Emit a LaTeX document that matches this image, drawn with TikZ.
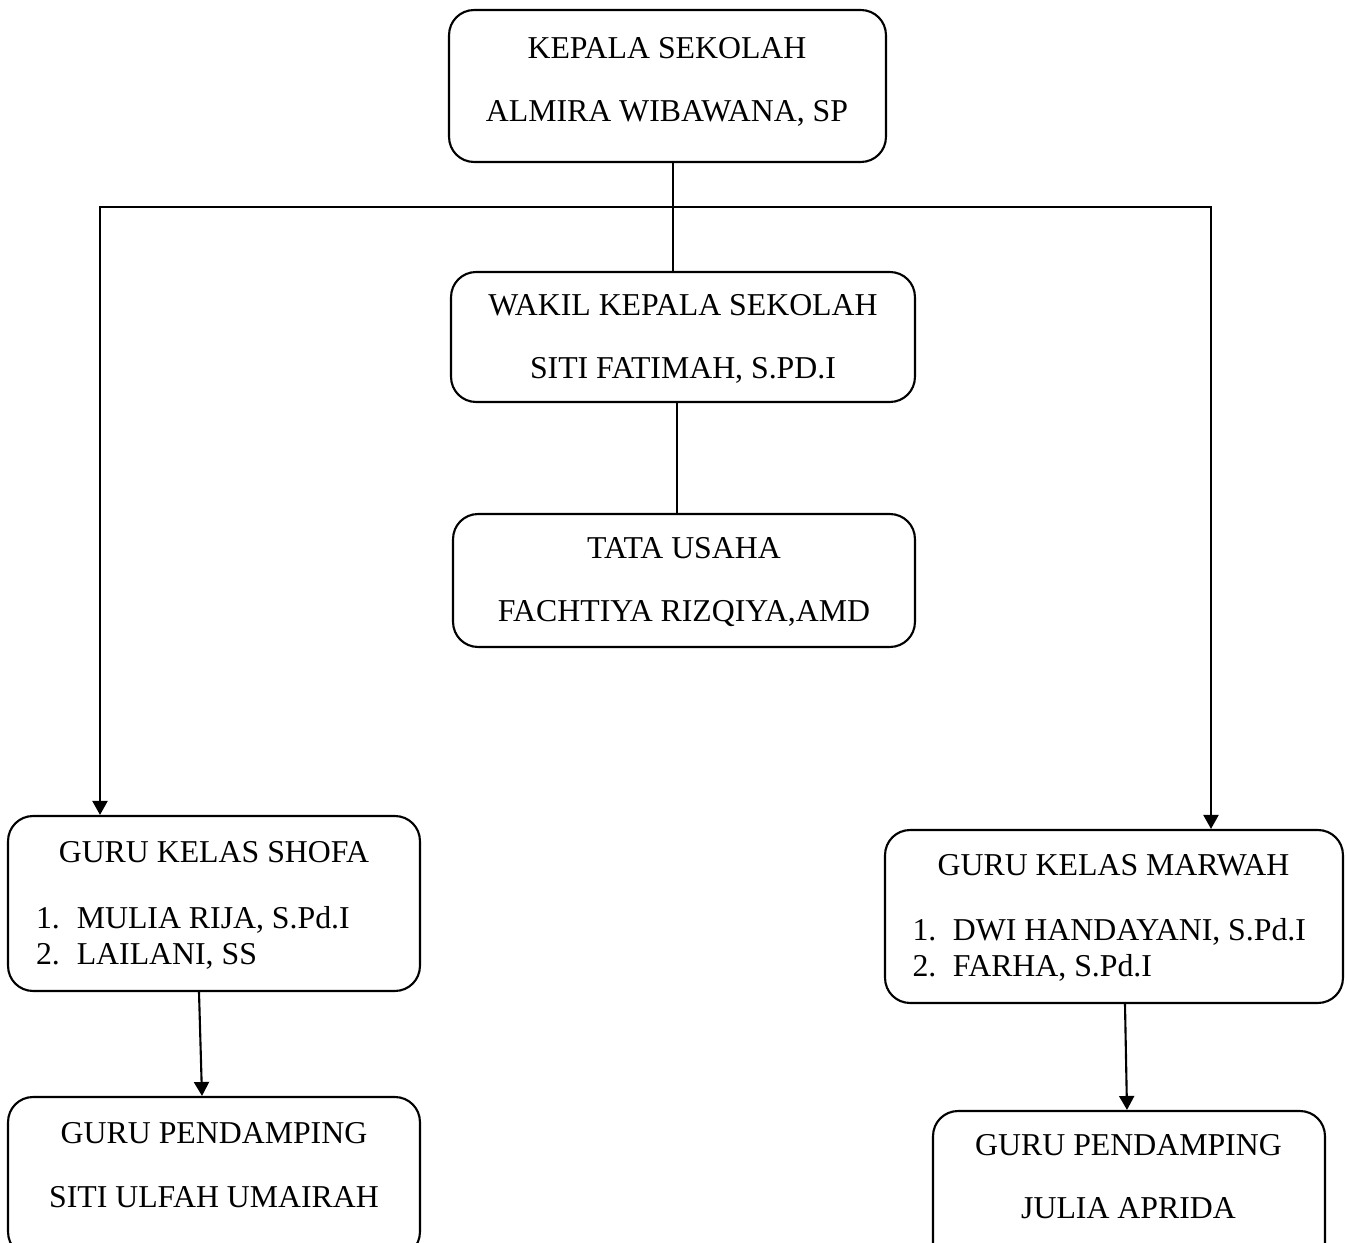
\documentclass[tikz,border=0pt]{standalone}
\usepackage{fontspec}
\setmainfont{Liberation Serif}
\usetikzlibrary{arrows.meta}

\begin{document}
\begin{tikzpicture}[x=0.02cm, y=-0.02cm, line width=1.2pt]
\tikzset{box/.style={draw, rectangle, rounded corners=0.5cm, inner sep=0pt},
txt/.style={inner sep=0pt, align=center, font=\fontsize{18.1}{20.8}\selectfont},
lst/.style={txt, align=left, anchor=north west},
arr/.style={-{Triangle[length=0.28cm, width=0.3cm]}}}

\useasboundingbox (0,0) rectangle (1347,1243);
\clip (0,0) rectangle (1347,1243);

% Top of the chart
\node[box, minimum width=8.74cm, minimum height=3.04cm] (kepala) at (667.5,86) {};
\node[txt] (kepalatxt) at (667,82) {KEPALA SEKOLAH\\[15.2pt] ALMIRA WIBAWANA, SP};

\node[box, minimum width=9.28cm, minimum height=2.6cm] (wakil) at (683,337) {};
\node[txt] (wakiltxt) at (683,339) {WAKIL KEPALA SEKOLAH\\[15.2pt] SITI FATIMAH, S.PD.I};

\node[box, minimum width=9.24cm, minimum height=2.66cm] (tata) at (684,580.5) {};
\node[txt] (tatatxt) at (684,582) {TATA USAHA\\[15.2pt] FACHTIYA RIZQIYA,AMD};

% Class teachers
\node[box, minimum width=8.24cm, minimum height=3.5cm] (shofa) at (214,903.5) {};
\node[txt, anchor=base] (shofatxt) at (214,863) {GURU KELAS SHOFA};
\node[lst] (shofalst) at (35,905)
{\makebox[23.2pt][l]{1.}MULIA RIJA, S.Pd.I\\ \makebox[23.2pt][l]{2.}LAILANI, SS};

\node[box, minimum width=9.16cm, minimum height=3.46cm] (marwah) at (1114,916.5) {};
\node[txt, anchor=base] (marwahtxt) at (1113.5,875) {GURU KELAS MARWAH};
\node[lst] (marwahlst) at (911.5,917)
{\makebox[23pt][l]{1.}DWI HANDAYANI, S.Pd.I\\ \makebox[23pt][l]{2.}FARHA, S.Pd.I};

% Assistant teachers
\node[box, minimum width=8.24cm, minimum height=3.2cm] (pendA) at (214,1177) {};
\node[txt] (pendAtxt) at (214,1165) {GURU PENDAMPING\\[15.2pt] SITI ULFAH UMAIRAH};

\node[box, minimum width=7.84cm, minimum height=3.14cm] (pendB) at (1129,1189.5) {};
\node[txt] (pendBtxt) at (1128.5,1176.5) {GURU PENDAMPING\\[15.2pt] JULIA APRIDA};

% Connections
\coordinate (split) at (673,207);
\draw (kepala.south -| split) -- (wakil.north -| split);
\draw[arr] (split) -| ([shift={(-114,0)}]shofa.north);
\draw[arr] (split) -| ([shift={(97,0)}]marwah.north);
\draw ([shift={(-6,0)}]wakil.south) -- ([shift={(-6,0)}]wakil.south |- tata.north);
\draw[arr] ([shift={(-15,0)}]shofa.south) -- ([shift={(-12,0)}]pendA.north);
\draw[arr] ([shift={(11,0)}]marwah.south) -- ([shift={(-2,0)}]pendB.north);

\end{tikzpicture}
\end{document}
